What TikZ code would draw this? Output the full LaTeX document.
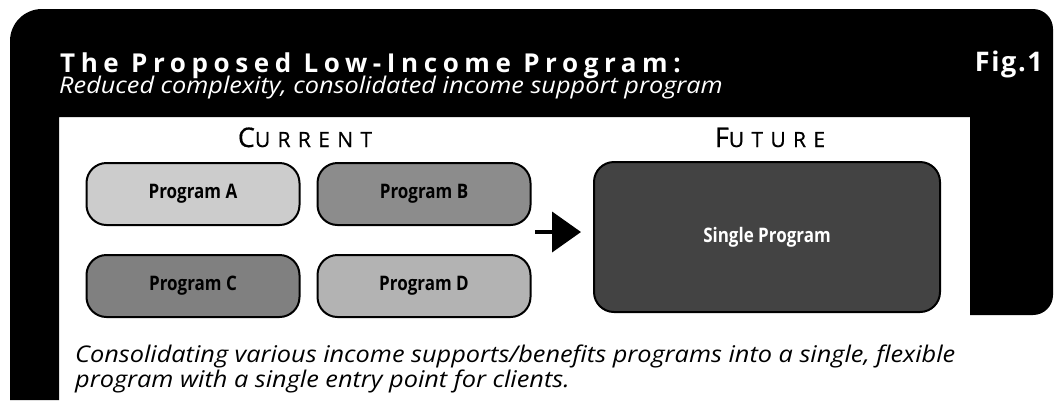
\documentclass[tikz,border=0pt]{standalone}
\usepackage{fontspec}
\setmainfont{Open Sans}
\newfontfamily\spacedfont[LetterSpace=21.5]{Open Sans}
\newfontfamily\figfont[LetterSpace=6]{Open Sans}
\newfontfamily\capsfont[LetterSpace=35,FakeBold=0.6]{Open Sans}
\newfontfamily\condfont[FakeStretch=0.85]{Open Sans}
\newfontfamily\widefont[FakeStretch=1.1]{Open Sans}
\usetikzlibrary{positioning}
\usetikzlibrary{arrows.meta}

\definecolor{progA}{HTML}{CCCCCC}
\definecolor{progB}{HTML}{8C8C8C}
\definecolor{progC}{HTML}{808080}
\definecolor{progD}{HTML}{B3B3B3}
\definecolor{single}{HTML}{434343}

\begin{document}
\begin{tikzpicture}[x=1pt,y=-1pt,
    prog/.style={draw,line width=2pt,rounded corners=20pt,minimum width=213pt,minimum height=62pt,inner sep=0pt,font=\condfont\bfseries\fontsize{20}{24}\selectfont},
    colhead/.style={anchor=base,inner sep=0pt,font=\capsfont\fontsize{21}{24}\selectfont},
    flow/.style={line width=4pt,-{Triangle[length=29pt,width=40pt]}}]

  \useasboundingbox (0,0) rectangle (1054,400);
  \fill[white] (0,0) rectangle (1054,400);

  \fill[black] (10,400) [rounded corners=32pt] -- (10,9) [rounded corners=20pt] -- (1053,9) -- (1053,315) [sharp corners] -- (970,315) -- (970,117) -- (59,117) -- (59,400) -- cycle;

  \node (title) [anchor=base west,inner sep=0pt,text=white,font=\spacedfont\bfseries\fontsize{26}{30}\selectfont] at (60,72) {The Proposed Low-Income Program:};
  \node (subtitle) [anchor=base west,inner sep=0pt,text=white,font=\widefont\itshape\fontsize{23}{26}\selectfont] at (59,93) {Reduced complexity, consolidated income support program};
  \node (fig) [anchor=base east,inner sep=0pt,text=white,font=\figfont\bfseries\fontsize{27}{30}\selectfont] at (1043,71) {Fig.1};

  \node (current) [colhead] at (305,147) {{\fontsize{27}{30}\selectfont C}URRENT};
  \node (future) [colhead] at (770,147) {{\fontsize{27}{30}\selectfont F}UTURE};

  \node (pA) [prog,fill=progA] at (193,194) {Program A};
  \node (pB) [prog,fill=progB,right=16pt of pA] {Program B};
  \node (pC) [prog,fill=progC,below=28pt of pA] {Program C};
  \node (pD) [prog,fill=progD,below=28pt of pB] {Program D};

  \node (single) [prog,fill=single,text=white,minimum width=346pt,minimum height=150pt] at (767,237) {Single Program};

  \coordinate (mid) at (535,232);
  \draw[flow] (mid) -- ([xshift=-12pt]mid -| single.west);

  \node (note) [anchor=base west,inner sep=0pt,align=left,font=\widefont\itshape\fontsize{23}{25}\selectfont] at (75,387) {Consolidating various income supports/benefits programs into a single, flexible\\program with a single entry point for clients.};

\end{tikzpicture}
\end{document}
